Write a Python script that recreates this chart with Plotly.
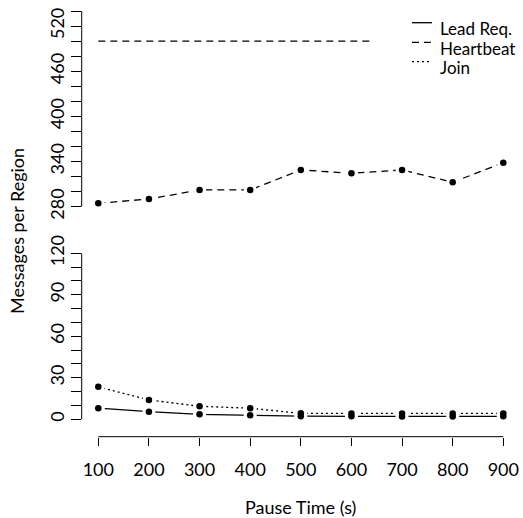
import plotly.graph_objects as go

# Message counts per region against node pause time
pause_time = [100, 200, 300, 400, 500, 600, 700, 800, 900]
lead_req = [8.0, 5.5, 3.6, 2.9, 2.2, 2.1, 2.0, 2.0, 2.1]
heartbeat = [284.5, 290.2, 302.2, 302.2, 328.8, 324.4, 328.8, 312.4, 338.5]
join = [23.5, 14.0, 9.4, 8.0, 4.3, 4.2, 4.1, 4.1, 4.2]
heartbeat_cap = [500, 500]
cap_span = [100, 900]

top_ticks = [280, 340, 400, 460, 520]
bottom_ticks = [0, 30, 60, 90, 120]

W, H = 523, 518
FONT = "Lato"
FS = 18
BLACK = "#000000"


def px_x(p):
    return p / W


def px_y(p):
    return (H - p) / H


fig = go.Figure()

series = [
    ("Lead Req.", lead_req, "solid", "y"),
    ("Heartbeat", heartbeat, "7px,5px", "y2"),
    ("Join", join, "2px,3px", "y"),
]

# connecting lines
for name, vals, dash, ya in series:
    fig.add_trace(go.Scatter(
        x=pause_time, y=vals, mode="lines", name=name,
        line=dict(color=BLACK, width=1.3, dash=dash),
        xaxis="x", yaxis=ya, showlegend=False, hoverinfo="skip"))

# upper heartbeat reference line
fig.add_trace(go.Scatter(
    x=cap_span, y=heartbeat_cap, mode="lines",
    line=dict(color=BLACK, width=1.3, dash="7px,5px"),
    xaxis="x", yaxis="y2", showlegend=False, hoverinfo="skip"))

# white halos leave the small gap around each point
for name, vals, dash, ya in series:
    fig.add_trace(go.Scatter(
        x=pause_time, y=vals, mode="markers",
        marker=dict(color="white", size=13, line=dict(width=0)),
        xaxis="x", yaxis=ya, showlegend=False, hoverinfo="skip"))

# filled points
for name, vals, dash, ya in series:
    fig.add_trace(go.Scatter(
        x=pause_time, y=vals, mode="markers",
        marker=dict(color=BLACK, size=6.5, line=dict(width=0)),
        xaxis="x", yaxis=ya, showlegend=False, hoverinfo="skip"))

axis_x0 = 81.7
x_range = [67.2, 932.0]

tickfont = dict(family=FONT, size=FS, color=BLACK)

fig.update_layout(
    width=W, height=H,
    margin=dict(l=0, r=0, t=0, b=0, autoexpand=False),
    paper_bgcolor="white", plot_bgcolor="white",
    font=dict(family=FONT, size=FS, color=BLACK),
    showlegend=False,
    xaxis=dict(
        domain=[px_x(axis_x0), px_x(519.5)], range=x_range,
        anchor="free", position=px_y(436.7), automargin=False,
        tickvals=pause_time, ticktext=[str(v) for v in pause_time],
        ticks="outside", ticklen=8, tickwidth=1, tickcolor=BLACK,
        showline=False, showgrid=False, zeroline=False,
        ticklabelstandoff=9, tickfont=tickfont,
    ),
    yaxis=dict(
        domain=[px_y(425.9), px_y(246.7)], range=[-4.8, 124.8],
        anchor="x", automargin=False,
        tickvals=bottom_ticks, ticktext=[str(v) for v in bottom_ticks],
        ticks="outside", ticklen=10, tickwidth=1, tickcolor=BLACK,
        minor=dict(tick0=0, dtick=10, ticks="outside", ticklen=10,
                   tickwidth=1, tickcolor=BLACK, showgrid=False),
        tickangle=-90, ticklabelstandoff=0,
        showline=False, showgrid=False, zeroline=False,
        tickfont=tickfont,
    ),
    yaxis2=dict(
        domain=[px_y(214.5), px_y(3.2)], range=[269.6, 550.4],
        anchor="x", automargin=False,
        tickvals=top_ticks, ticktext=[str(v) for v in top_ticks],
        ticks="outside", ticklen=10, tickwidth=1, tickcolor=BLACK,
        minor=dict(tick0=280, dtick=20, ticks="outside", ticklen=10,
                   tickwidth=1, tickcolor=BLACK, showgrid=False),
        tickangle=-90, ticklabelstandoff=0,
        showline=False, showgrid=False, zeroline=False,
        tickfont=tickfont,
    ),
)

shapes = [
    # y axis spines spanning only the tick range
    dict(type="line", xref="paper", yref="y", x0=px_x(axis_x0), x1=px_x(axis_x0),
         y0=bottom_ticks[0], y1=bottom_ticks[-1], line=dict(color=BLACK, width=1)),
    dict(type="line", xref="paper", yref="y2", x0=px_x(axis_x0), x1=px_x(axis_x0),
         y0=top_ticks[0], y1=540, line=dict(color=BLACK, width=1)),
    # x axis spine
    dict(type="line", xref="x", yref="paper", x0=pause_time[0], x1=pause_time[-1],
         y0=px_y(436.7), y1=px_y(436.7), line=dict(color=BLACK, width=1)),
    # legend backing
    dict(type="rect", xref="paper", yref="paper", x0=px_x(373), x1=1,
         y0=px_y(76), y1=px_y(12), fillcolor="white", line=dict(width=0),
         layer="above"),
]

# legend: key line + label per series
legend_rows = [22.7, 42.3, 61.7]
for (name, vals, dash, ya), row in zip(series, legend_rows):
    shapes.append(dict(
        type="line", xref="paper", yref="paper",
        x0=px_x(412), x1=px_x(432), y0=px_y(row), y1=px_y(row),
        line=dict(color=BLACK, width=1.3, dash=dash), layer="above"))
    fig.add_annotation(
        text=name, xref="paper", yref="paper",
        x=px_x(439), y=px_y(row + 6), showarrow=False,
        xanchor="left", yanchor="middle", borderpad=0,
        font=dict(family=FONT, size=17, color=BLACK))

fig.update_layout(shapes=shapes)

fig.add_annotation(
    text="Messages per Region", xref="paper", yref="paper",
    x=px_x(17), y=px_y(231), textangle=-90, showarrow=False,
    xanchor="center", yanchor="middle",
    font=dict(family=FONT, size=FS, color=BLACK))
fig.add_annotation(
    text="Pause Time (s)", xref="paper", yref="paper",
    x=px_x(300.8), y=px_y(506.7), showarrow=False,
    xanchor="center", yanchor="middle",
    font=dict(family=FONT, size=FS, color=BLACK))

fig.write_html("out.html")
